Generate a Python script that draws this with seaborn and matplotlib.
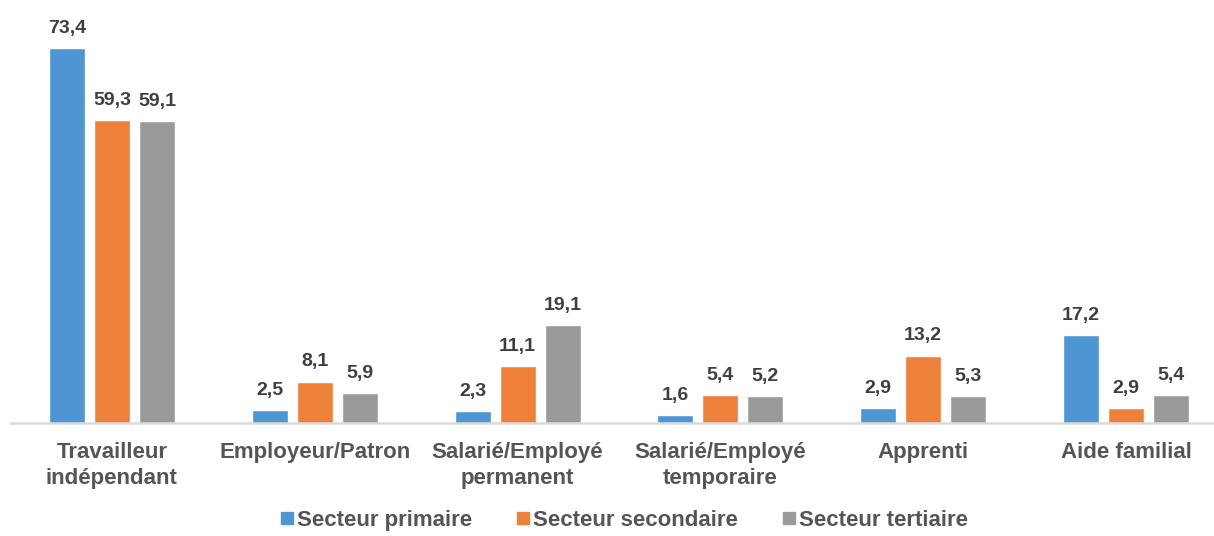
import matplotlib.pyplot as plt
import pandas as pd
import seaborn as sns
from matplotlib.lines import Line2D

# Data
categories = ['Travailleur\nindépendant', 'Employeur/Patron', 'Salarié/Employé\npermanent',
              'Salarié/Employé\ntemporaire', 'Apprenti', 'Aide familial']
series = ['Secteur primaire', 'Secteur secondaire', 'Secteur tertiaire']
primaire = [73.4, 2.5, 2.3, 1.6, 2.9, 17.2]
secondaire = [59.3, 8.1, 11.1, 5.4, 13.2, 2.9]
tertiaire = [59.1, 5.9, 19.1, 5.2, 5.3, 5.4]
colors = ['#4E95D3', '#EF803A', '#999B9B']

df = pd.DataFrame({
    'categorie': categories * 3,
    'secteur': [s for s in series for _ in categories],
    'valeur': primaire + secondaire + tertiaire,
})

sns.set_style('white')
plt.rcParams['font.family'] = ['Liberation Sans', 'DejaVu Sans']
label_color = '#3F3F3F'
tick_color = '#555555'

fig = plt.figure(figsize=(12.14, 5.36), dpi=100)
ax = fig.add_axes([10.5 / 1214, 113 / 536, 1217 / 1214, 423 / 536])

sns.barplot(data=df, x='categorie', y='valeur', hue='secteur', order=categories,
            hue_order=series, palette=colors, width=0.665, gap=0.2,
            saturation=1, ax=ax, legend=False)

for cont in ax.containers:
    labels = [f'{v:.1f}'.replace('.', ',') for v in cont.datavalues]
    ax.bar_label(cont, labels=labels, padding=8, fontsize=14,
                 fontweight='bold', color=label_color)

ax.set_xlim(-0.5, 5.5)
ax.set_ylim(0, 423 / 5.11)
ax.set_xlabel('')
ax.set_ylabel('')
ax.set_yticks([])
ax.tick_params(axis='x', length=0, pad=14, labelsize=16, labelcolor=tick_color)
for lab in ax.get_xticklabels():
    lab.set_fontweight('bold')
    lab.set_linespacing(1.3)
for side in ['top', 'left', 'right']:
    ax.spines[side].set_visible(False)
ax.spines['bottom'].set_color('#D9D9D9')
ax.spines['bottom'].set_linewidth(1.8)

handles = [Line2D([], [], marker='s', linestyle='', markersize=8, color=c) for c in colors]
leg = fig.legend(handles, series, loc='lower center', bbox_to_anchor=(624 / 1214, -0.028),
                 ncol=3, frameon=False, handlelength=0.6, handletextpad=0.15,
                 columnspacing=2.0, prop={'size': 16, 'weight': 'bold'})
for t in leg.get_texts():
    t.set_color(tick_color)

fig.savefig('out.png', dpi=100)
